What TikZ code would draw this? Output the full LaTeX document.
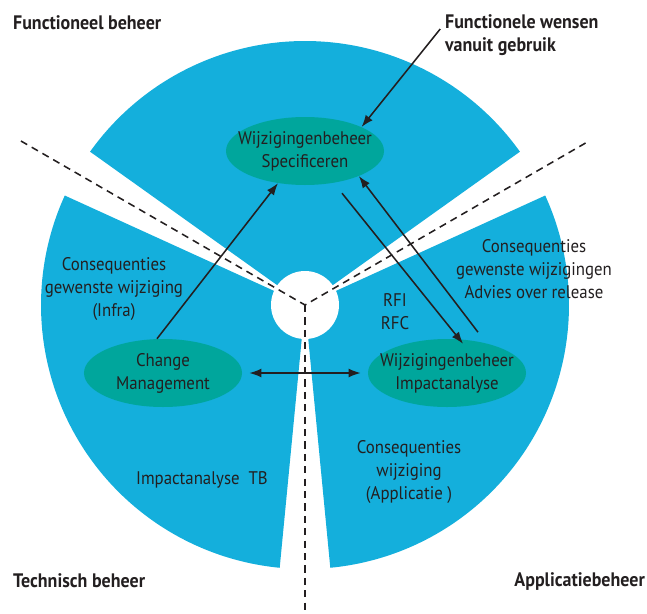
\documentclass[tikz,border=0pt]{standalone}
\usepackage{fontspec}
\setmainfont{PT Sans}[FakeStretch=0.92]
\usepackage{xcolor}
\usepackage{tikz}
\usetikzlibrary{shapes.geometric,arrows.meta}
\definecolor{ringblue}{RGB}{20,175,220}
\definecolor{taskgreen}{RGB}{0,166,156}
\definecolor{inkgray}{RGB}{35,31,32}

\begin{document}
\begin{tikzpicture}[
  task/.style={ellipse,fill=taskgreen,minimum width=3.95cm,minimum height=1.7cm,
    inner xsep=-0.3cm,inner ysep=0pt,align=center,text=inkgray,font=\fontsize{13}{16.4}\selectfont},
  note/.style={align=center,text=inkgray,font=\fontsize{13}{16.4}\selectfont},
  heading/.style={text=inkgray,font=\bfseries\fontsize{13.9}{16.8}\selectfont},
  flow/.style={-{Latex[length=3mm,width=2.2mm]},line width=1.1pt,draw=inkgray}
]
  \useasboundingbox (-7.625,-7.7) rectangle (8.55,7.625);
  % three domains of the wheel
  \foreach \a in {35.5,155.5,275.5}
    \fill[ringblue] (0,0) -- (\a:6.6) arc[start angle=\a,delta angle=109,radius=6.6] -- cycle;
  \fill[white] (0,0) circle (0.85cm);
  % borders between the domains
  \draw[line width=1.1pt,inkgray,dash pattern=on 0.18cm off 0.13cm] (150:8.2) -- (0,0) -- (30:8.2);
  \draw[line width=1.1pt,inkgray,dash pattern=on 0.18cm off 0.13cm] (0,0) -- (0,-7.7);

  % processes
  \node[task] (spec) at (0,3.85) {Wijzigingenbeheer\\Specificeren};
  \node[task] (chm) at (-3.55,-1.7) {Change\\Management};
  \node[task] (imp) at (3.55,-1.7) {Wijzigingenbeheer\\Impactanalyse};

  % domain names
  \node[heading,anchor=west] (fb) at (-7.42,7.05) {Functioneel beheer};
  \node[heading,anchor=west] (tb) at (-7.42,-6.9) {Technisch beheer};
  \node[heading,anchor=east] (ab) at (8.62,-6.9) {Applicatiebeheer};
  \node[heading,anchor=west,align=left] (wensen) at (3.38,6.75) {Functionele wensen\\vanuit gebruik};

  % information flows
  \node[note] (infra) at (-4.775,0.4) {Consequenties\\gewenste wijziging\\(Infra)};
  \node[note] (rfi) at (2.25,-0.16) {RFI\\RFC};
  \node[note] (advies) at (5.725,0.9) {Consequenties\\gewenste wijzigingen\\Advies over release};
  \node[note] (tbnote) at (-2.575,-4.375) {Impactanalyse\ \ TB};
  \node[note] (appl) at (2.6,-4.175) {Consequenties\\wijziging\\(Applicatie )};

  \draw[flow] ([yshift=0.15cm]wensen.west) -- (spec.23);
  \draw[flow] ([xshift=-0.15cm]chm.north) -- (spec.230);
  \draw[flow,shorten <=0.33cm,shorten >=-0.15cm] (spec.-48) -- (imp.70);
  \draw[flow,shorten <=0.35cm] (imp.37) -- (spec.-25);
  \draw[flow,{Latex[length=3mm,width=2.2mm]}-{Latex[length=3mm,width=2.2mm]},
    shorten <=0.175cm,shorten >=0.175cm] (chm.east) -- (imp.west);
\end{tikzpicture}
\end{document}
